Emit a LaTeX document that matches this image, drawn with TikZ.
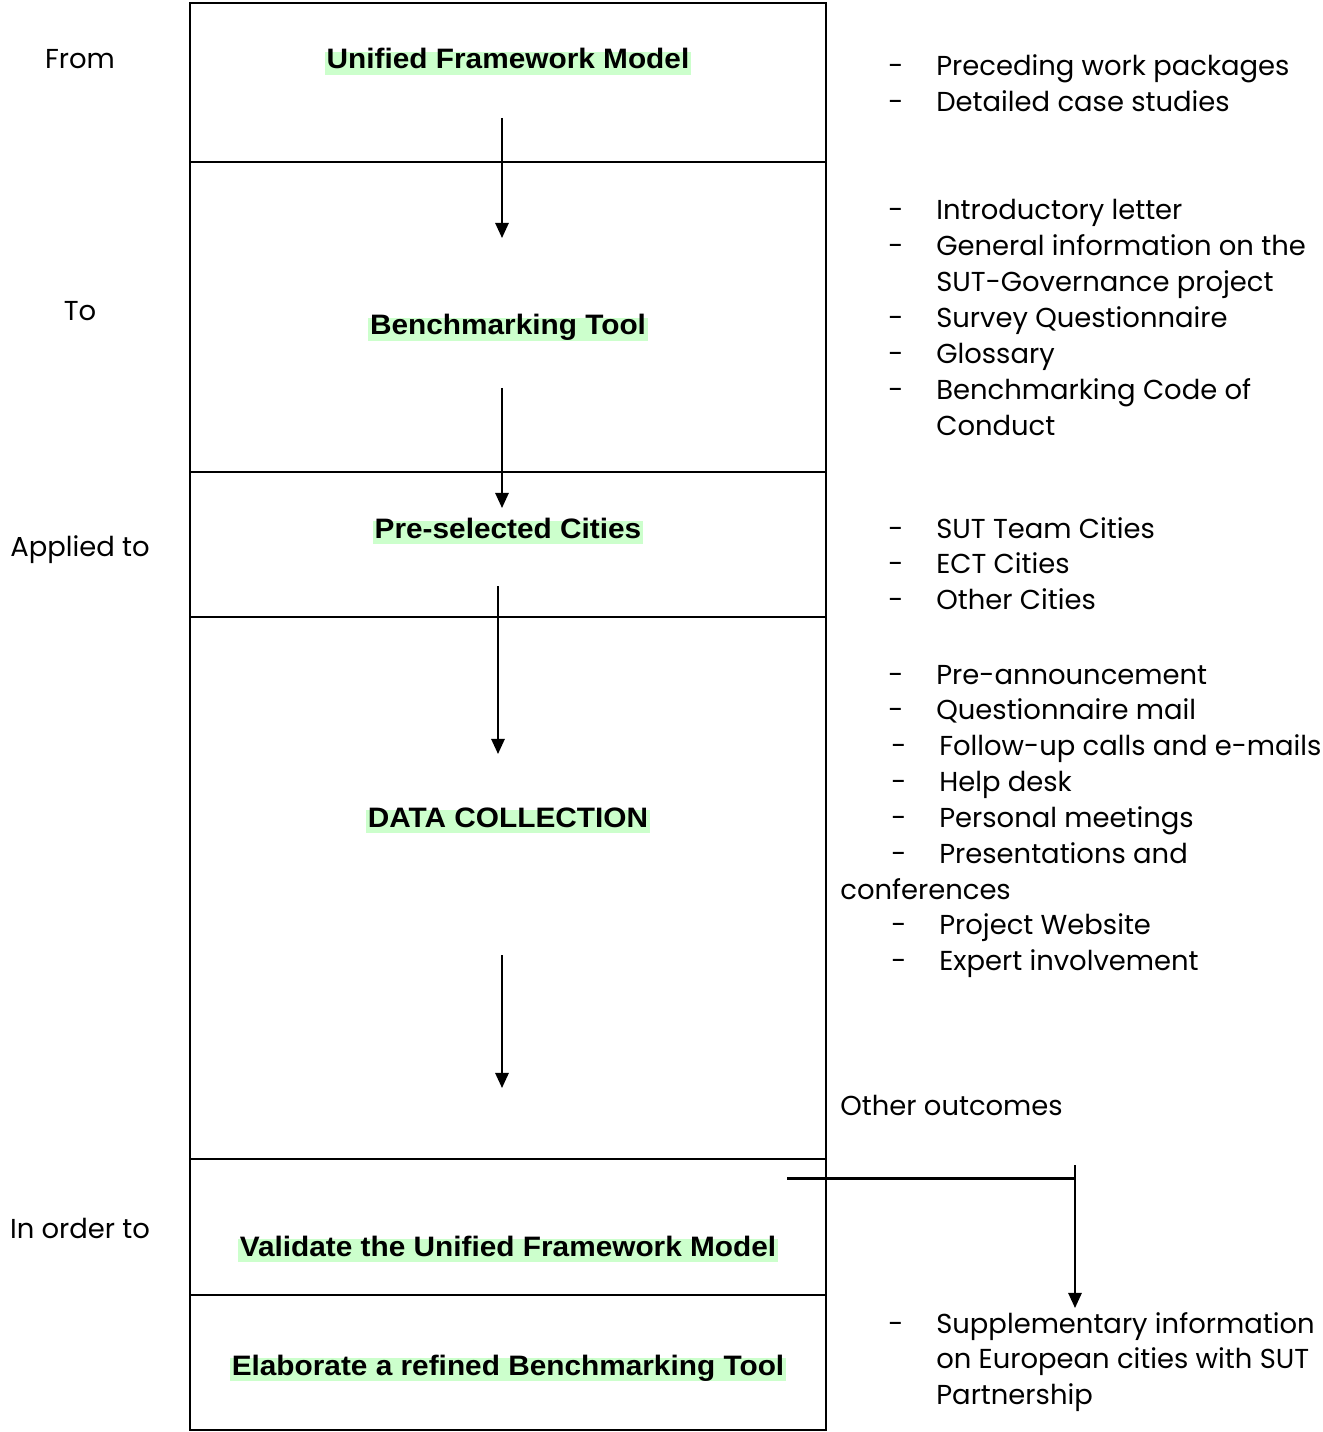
\documentclass[tikz,border=0pt]{standalone}
\usepackage{fontspec}
\setmainfont{Poppins}
\newfontfamily\grasfont[FakeStretch=1.06]{Liberation Sans}
\usetikzlibrary{arrows.meta}
\definecolor{surligne}{HTML}{CCFFCC}
\newcommand{\dec}{\hspace*{0.06cm}}
\begin{document}
\begin{tikzpicture}[x=0.02cm,y=-0.02cm]
		\tikzstyle{case}=[draw, line width=1.1pt, minimum width=12.72cm, inner sep=0pt, outer sep=0pt]
		\tikzstyle{titre}=[anchor=base, fill=surligne, font=\grasfont\bfseries\fontsize{16}{19}\selectfont, inner xsep=1pt, inner ysep=0pt, text height=0.96em, text depth=0.32em]
		\tikzstyle{etape}=[anchor=base, inner sep=0pt, font=\fontsize{15.6}{20.4}\selectfont]
		\tikzstyle{liste}=[anchor=base west, inner sep=0pt, font=\fontsize{15.6}{20.4}\selectfont]
		\tikzstyle{fleche}=[line width=1.1pt, -{Triangle[width=7.6pt,length=8.6pt]}]
		\useasboundingbox (0,0) rectangle (1322,1432);
		% les cases
		\node[case, minimum height=3.18cm] (caseA) at (508,82.5) {};
		\node[case, minimum height=6.2cm] (caseB) at (508,317) {};
		\node[case, minimum height=2.9cm] (caseC) at (508,544.5) {};
		\node[case, minimum height=10.84cm] (caseD) at (508,888) {};
		\node[case, minimum height=2.72cm] (caseE) at (508,1227) {};
		\node[case, minimum height=2.7cm] (caseF) at (508,1362.5) {};
		% les titres
		\node[titre] (modele) at (508,69) {Unified Framework Model};
		\node[titre] (outil) at (508,335) {Benchmarking Tool};
		\node[titre] (villes) at (508,538) {Pre-selected Cities};
		\node[titre] (donnees) at (508,827) {DATA COLLECTION};
		\node[titre] (valider) at (508,1256) {Validate the Unified Framework Model};
		\node[titre] (affiner) at (508,1375) {Elaborate a refined Benchmarking Tool};
		% colonne de gauche
		\node[etape] (from) at (80,69) {From};
		\node[etape] (to) at (80,321) {To};
		\node[etape] (applied) at (80,556) {Applied to};
		\node[etape] (order) at (80,1238) {In order to};
		% colonne de droite
		\node[liste] (sources) at (888,76) {\begin{tabular}[t]{@{}p{0.96cm}@{}l@{}}
			- & Preceding work packages\\
			- & Detailed case studies
		\end{tabular}};
		\node[liste] (documents) at (888,220) {\begin{tabular}[t]{@{}p{0.96cm}@{}l@{}}
			- & Introductory letter\\
			- & General information on the\\
			  & SUT-Governance project\\
			- & Survey Questionnaire\\
			- & Glossary\\
			- & Benchmarking Code of\\
			  & Conduct
		\end{tabular}};
		\node[liste] (cites) at (888,538) {\begin{tabular}[t]{@{}p{0.96cm}@{}l@{}}
			- & SUT Team Cities\\
			- & ECT Cities\\
			- & Other Cities
		\end{tabular}};
		\node[liste] (moyens) at (888,684) {\begin{tabular}[t]{@{}p{0.96cm}@{}l@{}}
			- & Pre-announcement\\
			- & Questionnaire mail\\
			\dec- & \dec Follow-up calls and e-mails\\
			\dec- & \dec Help desk\\
			\dec- & \dec Personal meetings\\
			\dec- & \dec Presentations and\\
			\multicolumn{2}{@{}l@{}}{\hspace*{-0.96cm}conferences}\\
			\dec- & \dec Project Website\\
			\dec- & \dec Expert involvement
		\end{tabular}};
		\node[liste] (autres) at (840,1115) {Other outcomes};
		\node[liste] (supplement) at (888,1333) {\begin{tabular}[t]{@{}p{0.96cm}@{}l@{}}
			- & Supplementary information\\
			  & on European cities with SUT\\
			  & Partnership
		\end{tabular}};
		% les fleches
		\coordinate (f1a) at (502,118);
		\coordinate (f1b) at (502,238);
		\coordinate (f2a) at (502,388);
		\coordinate (f2b) at (502,508);
		\coordinate (f3a) at (498,586);
		\coordinate (f3b) at (498,754);
		\coordinate (f4a) at (502,955);
		\coordinate (f4b) at (502,1088);
		\draw[fleche] (f1a) -- (f1b);
		\draw[fleche] (f2a) -- (f2b);
		\draw[fleche] (f3a) -- (f3b);
		\draw[fleche] (f4a) -- (f4b);
		% renvoi vers la droite
		\coordinate (r1) at (787,1178);
		\coordinate (r2) at (1075,1178);
		\coordinate (r3) at (1075,1165);
		\coordinate (r4) at (1075,1308);
		\draw[line width=1.7pt] (r1) -- (r2);
		\draw[fleche] (r3) -- (r4);
	\end{tikzpicture}
\end{document}
